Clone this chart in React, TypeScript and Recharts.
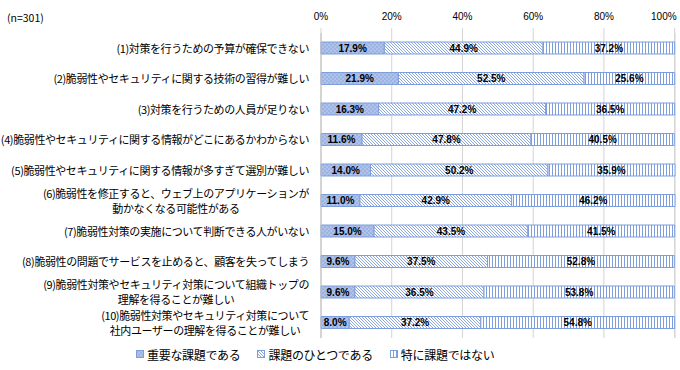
import { BarChart, Bar, XAxis, YAxis, CartesianGrid, LabelList, Legend } from 'recharts'

const categories = [
  '(1)対策を行うための予算が確保できない',
  '(2)脆弱性やセキュリティに関する技術の習得が難しい',
  '(3)対策を行うための人員が足りない',
  '(4)脆弱性やセキュリティに関する情報がどこにあるかわからない',
  '(5)脆弱性やセキュリティに関する情報が多すぎて選別が難しい',
  '(6)脆弱性を修正すると、ウェブ上のアプリケーションが\n動かなくなる可能性がある',
  '(7)脆弱性対策の実施について判断できる人がいない',
  '(8)脆弱性の問題でサービスを止めると、顧客を失ってしまう',
  '(9)脆弱性対策やセキュリティ対策について組織トップの\n理解を得ることが難しい',
  '(10)脆弱性対策やセキュリティ対策について\n社内ユーザーの理解を得ることが難しい',
]
const important = [17.9, 21.9, 16.3, 11.6, 14.0, 11.0, 15.0, 9.6, 9.6, 8.0]
const oneOf = [44.9, 52.5, 47.2, 47.8, 50.2, 42.9, 43.5, 37.5, 36.5, 37.2]
const notIssue = [37.2, 25.6, 36.5, 40.5, 35.9, 46.2, 41.5, 52.8, 53.8, 54.8]
const seriesNames = ['重要な課題である', '課題のひとつである', '特に課題ではない']
const xTicks = [0, 20, 40, 60, 80, 100]
const boundaryTicks = [0, 1, 2, 3, 4, 5, 6, 7, 8, 9, 10]

const data = categories.map((name, i) => ({
  name,
  a: important[i],
  b: oneOf[i],
  c: notIssue[i],
}))

const JP = '"Noto Sans CJK JP", "Noto Sans", sans-serif'
const NUM = '"Liberation Sans", Arial, sans-serif'
const EDGE = '#7e9ddc'
const fills = ['url(#pImportant)', 'url(#pOneOf)', 'url(#pNot)']

// html label so two-line labels can be centred as a block ending at the axis
function CategoryTick({ x, y, payload }: any) {
  const w = 316
  const h = 36
  return (
    <foreignObject x={x - 4 - w} y={y - h / 2} width={w} height={h}>
      <div
        style={{
          width: w,
          height: h,
          display: 'flex',
          justifyContent: 'flex-end',
          alignItems: 'center',
        }}
      >
        <div
          style={{
            whiteSpace: 'pre',
            textAlign: 'center',
            fontFamily: JP,
            fontSize: 11,
            letterSpacing: -0.4,
            lineHeight: '15px',
            color: '#000',
          }}
        >
          {payload.value}
        </div>
      </div>
    </foreignObject>
  )
}

function PercentTick({ x, y, payload }: any) {
  const last = payload.value === 100
  return (
    <text
      x={last ? x + 2 : x}
      y={y - 6}
      textAnchor={last ? 'end' : 'middle'}
      fontSize={10}
      fontFamily={NUM}
      fill="#000"
    >
      {`${payload.value}%`}
    </text>
  )
}

function LegendContent() {
  return (
    <div
      style={{
        height: 32,
        display: 'flex',
        alignItems: 'center',
        marginLeft: 136,
        fontFamily: JP,
        fontSize: 12,
        letterSpacing: -0.3,
        color: '#000',
      }}
    >
      {seriesNames.map((n, i) => (
        <span key={n} style={{ display: 'flex', alignItems: 'center', marginRight: 17 }}>
          <svg width={8} height={8} style={{ marginRight: 3 }}>
            <rect x={0.5} y={0.5} width={7} height={7} fill={fills[i]} stroke={EDGE} />
          </svg>
          {n}
        </span>
      ))}
    </div>
  )
}

export default function App() {
  return (
    <div style={{ position: 'absolute', left: 0, top: 0, width: 680, height: 370, background: '#fff' }}>
      <div style={{ position: 'absolute', left: 7, top: 10, fontFamily: JP, fontSize: 10.5 }}>(n=301)</div>
      <BarChart
        width={680}
        height={370}
        data={data}
        layout="vertical"
        margin={{ top: 0, right: 5, bottom: 0, left: 0 }}
        barSize={12}
      >
        <defs>
          <pattern id="pImportant" width={4} height={4} patternUnits="userSpaceOnUse">
            <rect width={4} height={4} fill="#9db3e2" />
            <rect width={2} height={2} fill="#afc2ea" />
            <rect x={2} y={2} width={2} height={2} fill="#afc2ea" />
          </pattern>
          <pattern id="pOneOf" width={3} height={3} patternUnits="userSpaceOnUse">
            <rect width={3} height={3} fill="#fff" />
            <path d="M0,0 L3,3 M-1,2 L1,4 M2,-1 L4,1" stroke="#8aa6de" strokeWidth={1} />
          </pattern>
          <pattern id="pNot" width={3} height={3} patternUnits="userSpaceOnUse">
            <rect width={3} height={3} fill="#fff" />
            <rect x={0} width={1} height={3} fill="#7e9ddc" />
          </pattern>
        </defs>
        <CartesianGrid horizontal={false} stroke="#d4d4d4" />
        <XAxis
          type="number"
          orientation="top"
          domain={[0, 100]}
          ticks={xTicks}
          height={33}
          axisLine={false}
          tickLine={{ stroke: '#d4d4d4' }}
          tickSize={5}
          tick={<PercentTick />}
          interval={0}
        />
        <YAxis
          type="category"
          dataKey="name"
          width={321}
          tick={<CategoryTick />}
          tickLine={false}
          axisLine={{ stroke: '#bfbfbf' }}
          interval={0}
        />
        <YAxis
          yAxisId="edges"
          type="number"
          domain={[0, 10]}
          ticks={boundaryTicks}
          width={0}
          tick={false}
          tickSize={4}
          tickLine={{ stroke: '#bfbfbf' }}
          axisLine={false}
          interval={0}
        />
        <Legend verticalAlign="bottom" align="left" content={<LegendContent />} />
        {(['a', 'b', 'c'] as const).map((k, i) => (
          <Bar
            key={k}
            dataKey={k}
            name={seriesNames[i]}
            stackId="s"
            fill={fills[i]}
            stroke={EDGE}
            strokeWidth={1}
            isAnimationActive={false}
          >
            <LabelList
              dataKey={k}
              position="center"
              formatter={(v: any) => `${Number(v).toFixed(1)}%`}
              style={{ fontSize: 10, fontFamily: NUM, fontWeight: 'bold', fill: '#000' }}
            />
          </Bar>
        ))}
      </BarChart>
    </div>
  )
}
